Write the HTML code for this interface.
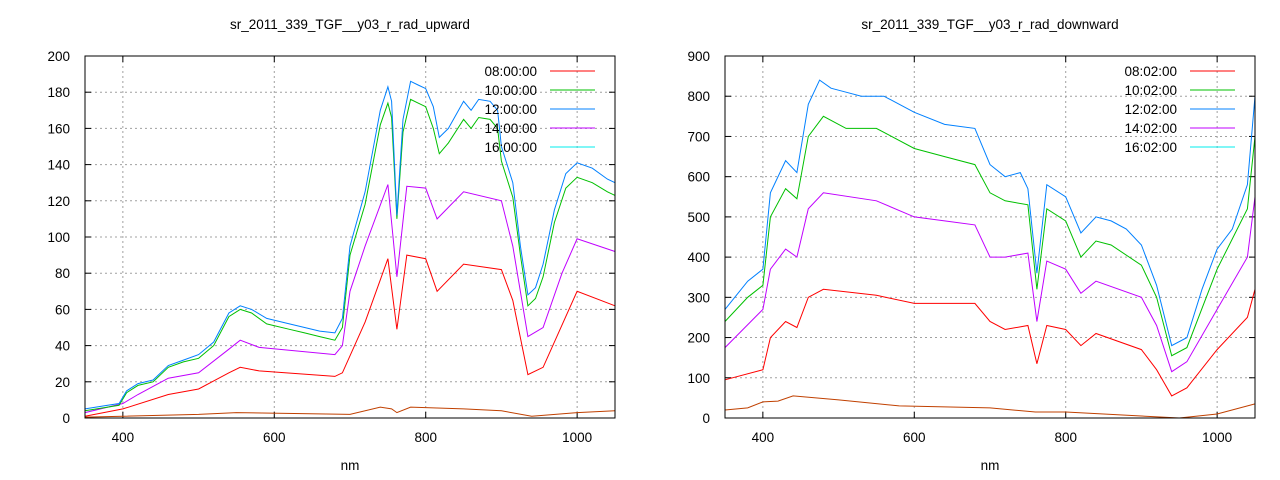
<!DOCTYPE html>
<html><head><meta charset="utf-8"><style>
body{margin:0;background:#fff}
svg{display:block}
text{font-family:"Liberation Sans",sans-serif;font-size:13.5px;fill:#000}
</style></head><body>
<svg id="s" width="1280" height="480" xmlns="http://www.w3.org/2000/svg"></svg>
<script>
const S=document.getElementById('s');let h='';
const cols=['#ff0000','#00c000','#0080ff','#c000ff','#c04000'];
function plot(x0,title,ymax,ystep,labels,data){
 const L=x0,R=x0+530,T=56,B=418;
 const X=v=>L+(v-350)/700*530, Y=v=>B-v/ymax*(B-T);
 h+=`<text x="${(L+R)/2}" y="29" text-anchor="middle">${title}</text>`;
 h+=`<text x="${(L+R)/2}" y="470" text-anchor="middle">nm</text>`;
 for(let v=0;v<=ymax;v+=ystep){const y=Y(v);
  if(v>0&&v<ymax)h+=`<line x1="${L}" x2="${R}" y1="${y}" y2="${y}" stroke="#a0a0a0" stroke-dasharray="2,3"/>`;
  h+=`<line x1="${L}" x2="${L+6}" y1="${y}" y2="${y}" stroke="#000"/><line x1="${R-6}" x2="${R}" y1="${y}" y2="${y}" stroke="#000"/>`;
  h+=`<text x="${L-15}" y="${y+5}" text-anchor="end">${v}</text>`;}
 for(let v=400;v<=1000;v+=200){const x=X(v);
  h+=`<line x1="${x}" x2="${x}" y1="${T}" y2="${B}" stroke="#a0a0a0" stroke-dasharray="2,3"/>`;
  h+=`<line x1="${x}" x2="${x}" y1="${B}" y2="${B-6}" stroke="#000"/><line x1="${x}" x2="${x}" y1="${T}" y2="${T+6}" stroke="#000"/>`;
  h+=`<text x="${x}" y="${B+24}" text-anchor="middle">${v}</text>`;}
 const order=[4,0,3,1,2];
 order.forEach(i=>{const d=data[i];let p='';for(let k=0;k<d.length;k+=2)p+=(k?'L':'M')+X(d[k]).toFixed(1)+','+Y(d[k+1]).toFixed(1);
  h+=`<path d="${p}" fill="none" stroke="${cols[i]}" stroke-width="1"/>`;});
 labels.forEach((t,i)=>{const y=76+i*19;
  h+=`<text x="${R-78}" y="${y}" text-anchor="end">${t}</text><line x1="${R-65}" x2="${R-20}" y1="${y-5}" y2="${y-5}" stroke="${i==4?'#00eeee':cols[i]}"/>`;});
 h+=`<rect x="${L}" y="${T}" width="530" height="${B-T}" fill="none" stroke="#000"/>`;
}
const up=[
[350,1,400,5,460,13,500,16,540,25,555,28,580,26,680,23,690,25,720,53,750,88,762,49,775,90,800,88,815,70,850,85,900,82,915,65,935,24,955,28,1000,70,1050,62],
[350,4,380,6,395,7,405,14,420,18,440,20,460,28,480,31,500,33,520,40,540,56,555,60,570,58,590,52,620,49,640,47,660,45,680,43,690,50,700,90,720,118,740,162,750,174,755,166,762,110,770,158,780,176,790,174,800,172,810,160,818,146,830,152,850,165,860,160,870,166,885,165,895,160,900,142,915,122,925,90,935,62,945,66,955,78,970,108,985,127,1000,133,1020,130,1040,125,1050,123],
[350,5,380,7,395,8,405,15,420,19,440,21,460,29,480,32,500,35,520,42,540,58,555,62,570,60,590,55,620,52,640,50,660,48,680,47,690,55,700,95,720,125,740,170,750,183,755,175,762,112,770,165,780,186,790,184,800,182,810,172,818,155,830,160,850,175,860,170,870,176,885,175,895,170,900,150,915,130,925,95,935,68,945,72,955,85,970,115,985,135,1000,141,1020,138,1040,132,1050,130],
[350,3,400,8,420,13,460,22,500,25,540,38,555,43,580,39,680,35,690,40,700,70,720,95,750,129,762,78,775,128,800,127,815,110,850,125,900,120,915,95,935,45,955,50,980,80,1000,99,1050,92],
[350,0.5,500,2,550,3,700,2,740,6,755,5,762,3,780,6,850,5,900,4,940,1,1000,3,1050,4]];
const dn=[
[350,95,400,120,410,200,430,240,445,225,460,300,480,320,550,305,600,285,680,285,700,240,720,220,750,230,762,135,775,230,800,220,820,180,840,210,900,170,920,120,940,55,960,75,1000,170,1040,250,1050,320],
[350,240,380,300,400,330,410,500,430,570,445,545,460,700,480,750,510,720,550,720,600,670,640,650,680,630,700,560,720,540,750,530,762,320,775,520,800,490,820,400,840,440,860,430,900,380,920,300,940,155,960,175,1000,370,1040,520,1050,700],
[350,270,380,340,400,370,410,560,430,640,445,610,460,780,475,840,490,820,510,810,530,800,560,800,600,760,640,730,680,720,700,630,720,600,740,610,750,570,762,360,775,580,800,550,820,460,840,500,860,490,880,470,900,430,920,330,940,180,960,200,980,320,1000,420,1020,470,1040,580,1050,800],
[350,175,400,270,410,370,430,420,445,400,460,520,480,560,550,540,600,500,640,490,680,480,700,400,720,400,750,410,762,240,775,390,800,370,820,310,840,340,900,300,920,230,940,115,960,140,1000,270,1040,400,1050,550],
[350,20,380,25,400,40,420,42,440,55,500,45,580,30,700,25,760,15,800,15,900,5,950,0,1000,10,1050,35]];
plot(85,'sr_2011_339_TGF__y03_r_rad_upward',200,20,['08:00:00','10:00:00','12:00:00','14:00:00','16:00:00'],up);
plot(725,'sr_2011_339_TGF__y03_r_rad_downward',900,100,['08:02:00','10:02:00','12:02:00','14:02:00','16:02:00'],dn);
S.innerHTML=h;
</script>
</body></html>
